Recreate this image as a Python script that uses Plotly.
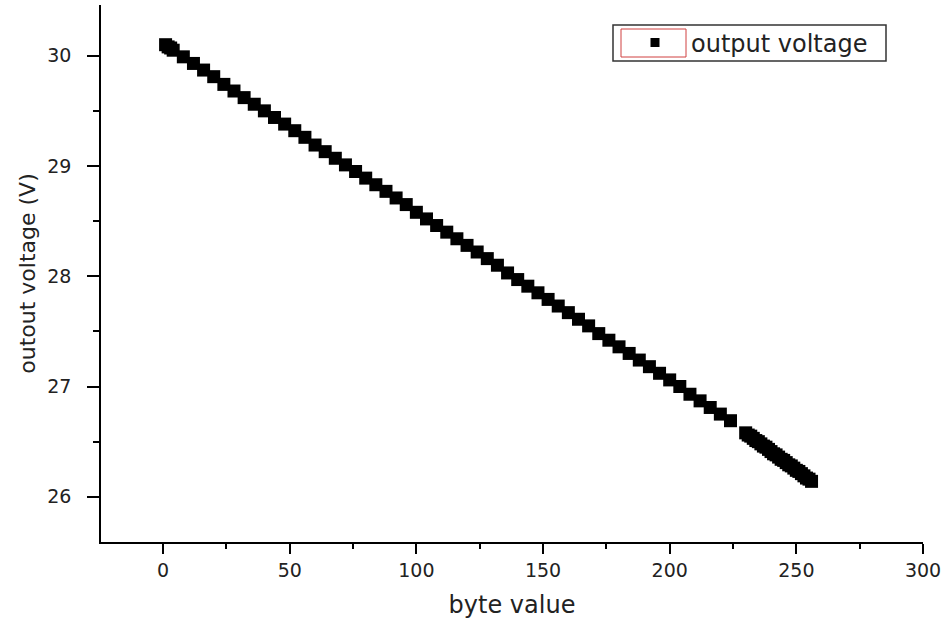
import plotly.graph_objects as go

# byte values (x) and measured output voltage (y)
byte_sparse = [1, 2, 3, 4, 8, 12, 16, 20, 24, 28, 32, 36, 40, 44, 48, 52, 56, 60, 64, 68, 72,
               76, 80, 84, 88, 92, 96, 100, 104, 108, 112, 116, 120, 124, 128, 132, 136, 140,
               144, 148, 152, 156, 160, 164, 168, 172, 176, 180, 184, 188, 192, 196, 200, 204,
               208, 212, 216, 220, 224]
volt_sparse = [30.10, 30.08, 30.07, 30.05, 29.99, 29.93, 29.87, 29.81, 29.74, 29.68, 29.62, 29.56,
               29.50, 29.44, 29.38, 29.32, 29.26, 29.19, 29.13, 29.07, 29.01, 28.95, 28.89, 28.83,
               28.77, 28.71, 28.65, 28.58, 28.52, 28.46, 28.40, 28.34, 28.28, 28.22, 28.16, 28.10,
               28.03, 27.97, 27.91, 27.85, 27.79, 27.73, 27.67, 27.61, 27.55, 27.48, 27.42, 27.36,
               27.30, 27.24, 27.18, 27.12, 27.06, 27.00, 26.93, 26.87, 26.81, 26.75, 26.69]
byte_dense = [230, 231, 232, 233, 234, 235, 236, 237, 238, 239, 240, 241, 242, 243, 244, 245,
              246, 247, 248, 249, 250, 251, 252, 253, 254, 255, 256]
volt_dense = [26.58, 26.56, 26.55, 26.53, 26.51, 26.50, 26.48, 26.46, 26.45, 26.43, 26.41, 26.39,
              26.38, 26.36, 26.34, 26.33, 26.31, 26.29, 26.28, 26.26, 26.24, 26.23, 26.21, 26.19,
              26.17, 26.16, 26.14]

x_ticks = [0, 50, 100, 150, 200, 250, 300]
y_ticks = [26, 27, 28, 29, 30]
series_name = "output voltage"
x_title = "byte value"
y_title = "outout voltage (V)"

FONT = "DejaVu Sans"

fig = go.Figure()
fig.add_trace(go.Scatter(
    x=byte_sparse + byte_dense, y=volt_sparse + volt_dense, mode="markers",
    marker=dict(symbol="square", size=13, color="black", line=dict(width=0)),
    showlegend=False,
))
# legend entry (smaller symbol, as in the reference)
fig.add_trace(go.Scatter(
    x=[None], y=[None], mode="markers", name=series_name,
    marker=dict(symbol="square", size=9, color="black", line=dict(width=0)),
    showlegend=True,
))

L, R, T, B = 101, 27, 5, 82
W, H = 950, 624
pw, ph = W - L - R, H - T - B

def px(xp):
    return (xp - L) / pw

def py(yp):
    return (H - B - yp) / ph

fig.update_layout(
    width=W, height=H,
    margin=dict(l=L, r=R, t=T, b=B),
    paper_bgcolor="white", plot_bgcolor="white",
    font=dict(family=FONT, color="#222"),
    showlegend=True,
    legend=dict(
        x=px(619), y=py(43), xanchor="left", yanchor="middle",
        bgcolor="rgba(0,0,0,0)", borderwidth=0,
        font=dict(family=FONT, size=24, color="#222"),
        itemwidth=62,
    ),
    shapes=[
        dict(type="rect", xref="paper", yref="paper",
             x0=px(613), x1=px(886), y0=py(61), y1=py(25),
             line=dict(color="#333", width=1.5), fillcolor="rgba(0,0,0,0)"),
        dict(type="rect", xref="paper", yref="paper",
             x0=px(621), x1=px(686), y0=py(57), y1=py(29),
             line=dict(color="#d04040", width=1), fillcolor="rgba(0,0,0,0)"),
    ],
)
fig.update_xaxes(
    range=[-24.5, 300], tickvals=x_ticks, showgrid=False, zeroline=False,
    showline=True, linecolor="black", linewidth=1.5,
    ticks="outside", ticklen=10, tickwidth=1.5, tickcolor="black",
    minor=dict(dtick=25, tick0=0, ticks="outside", ticklen=5, tickwidth=1.5, tickcolor="black", showgrid=False),
    tickfont=dict(family=FONT, size=19, color="#222"),
    title=dict(text=x_title, font=dict(family=FONT, size=24, color="#222"), standoff=17),
)
fig.update_yaxes(
    range=[25.59, 30.46], tickvals=y_ticks, showgrid=False, zeroline=False,
    showline=True, linecolor="black", linewidth=1.5,
    ticks="outside", ticklen=12, tickwidth=1.5, tickcolor="black",
    ticklabelstandoff=12,
    minor=dict(dtick=0.5, tick0=0, ticks="outside", ticklen=6, tickwidth=1.5, tickcolor="black", showgrid=False),
    tickfont=dict(family=FONT, size=19, color="#222"),
    title=dict(text=y_title, font=dict(family=FONT, size=22, color="#222"), standoff=6),
)

fig.write_html("out.html")
